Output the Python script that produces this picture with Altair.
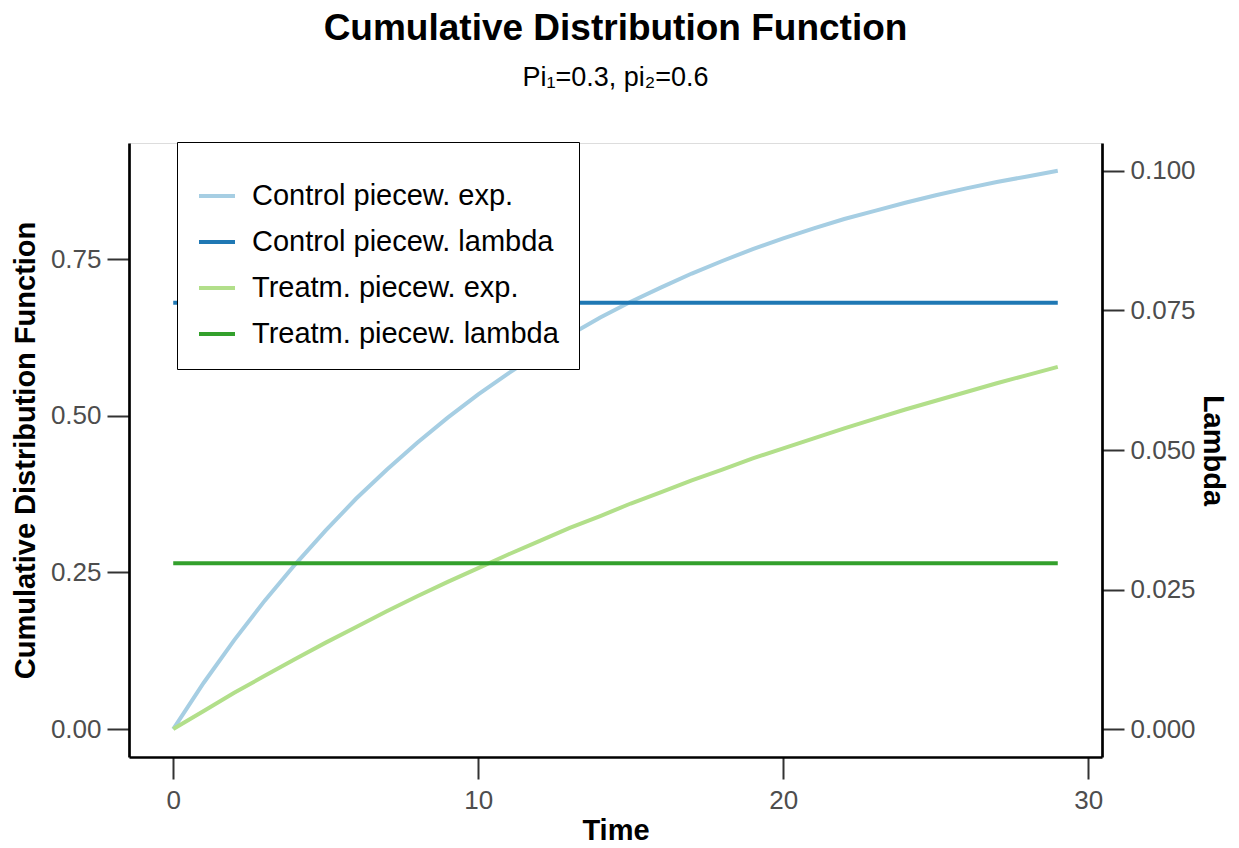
import altair as alt
import pandas as pd

# Time grid (months) and cumulative distribution values of both arms
time = list(range(30))
control_cdf = [0.000, 0.074, 0.142, 0.205, 0.263, 0.317, 0.368, 0.414, 0.457, 0.497,
               0.534, 0.568, 0.600, 0.629, 0.657, 0.682, 0.705, 0.727, 0.747, 0.766,
               0.783, 0.799, 0.814, 0.827, 0.840, 0.852, 0.863, 0.873, 0.882, 0.891]
treat_cdf = [0.000, 0.029, 0.058, 0.085, 0.112, 0.138, 0.163, 0.188, 0.212, 0.235,
             0.257, 0.279, 0.300, 0.321, 0.340, 0.360, 0.378, 0.397, 0.414, 0.432,
             0.448, 0.464, 0.480, 0.495, 0.510, 0.524, 0.538, 0.552, 0.565, 0.578]

# Piecewise constant hazard rates (right axis)
lambda_time = [0, 29]
control_lambda = [0.0764, 0.0764]
treat_lambda = [0.0297, 0.0297]

series_names = ["Control piecew. exp.", "Control piecew. lambda",
                "Treatm. piecew. exp.", "Treatm. piecew. lambda"]
series_colors = ["#A6CEE3", "#1F78B4", "#B2DF8A", "#33A02C"]

cdf_df = pd.DataFrame({
    "time": time + time,
    "value": control_cdf + treat_cdf,
    "series": [series_names[0]] * len(time) + [series_names[2]] * len(time),
})
lambda_df = pd.DataFrame({
    "time": lambda_time + lambda_time,
    "value": control_lambda + treat_lambda,
    "series": [series_names[1]] * 2 + [series_names[3]] * 2,
})

FONT = "Liberation Sans"

color = alt.Color(
    "series:N",
    sort=series_names,
    scale=alt.Scale(domain=series_names, range=series_colors),
    legend=alt.Legend(
        title=" ", titleFontSize=10, titlePadding=4,
        orient="none", legendX=48, legendY=-1, direction="vertical",
        strokeColor="black", fillColor="white", padding=20,
        labelFont=FONT, labelFontSize=29, labelColor="black",
        labelLimit=600, labelOffset=15,
        symbolType="stroke", symbolSize=1296, symbolStrokeWidth=4,
        rowPadding=11,
    ),
)

axis_style = dict(
    grid=False, labelFont=FONT, labelFontSize=26, labelColor="#4D4D4D",
    tickSize=22, tickWidth=2, tickColor="#333333",
    domainColor="black", domainWidth=2.7,
    titleFont=FONT, titleFontSize=29, titleFontWeight="bold", titleColor="black",
)

x = alt.X(
    "time:Q",
    scale=alt.Scale(domain=[-1.45, 30.45], nice=False, zero=False),
    axis=alt.Axis(values=[0, 10, 20, 30], format="d", title="Time",
                  labelPadding=8, titleY=82, titleBaseline="alphabetic",
                  **axis_style),
)

cdf_lines = alt.Chart(cdf_df).mark_line(strokeWidth=4).encode(
    x=x,
    y=alt.Y(
        "value:Q",
        scale=alt.Scale(domain=[-0.04454, 0.93534], nice=False, zero=False),
        axis=alt.Axis(values=[0, 0.25, 0.5, 0.75], format=".2f",
                      title="Cumulative Distribution Function", orient="left",
                      labelPadding=6, titleAngle=-90, titleX=-95, titleY=307,
                      titleBaseline="alphabetic", titleAlign="center",
                      **axis_style),
    ),
    color=color,
    detail="series:N",
)

lambda_lines = alt.Chart(lambda_df).mark_line(strokeWidth=4).encode(
    x=x,
    y=alt.Y(
        "value:Q",
        scale=alt.Scale(domain=[-0.005, 0.105], nice=False, zero=False),
        axis=alt.Axis(values=[0, 0.025, 0.05, 0.075, 0.1], format=".3f",
                      title="Lambda", orient="right",
                      labelPadding=6, titleAngle=90, titleX=101, titleY=307,
                      titleBaseline="alphabetic", titleAlign="center",
                      **axis_style),
    ),
    color=color,
    detail="series:N",
)

chart = (
    alt.layer(cdf_lines, lambda_lines)
    .resolve_scale(y="independent")
    .properties(
        width=973,
        height=614,
        autosize=alt.AutoSizeParams(type="none"),
        padding={"left": 129, "top": 143, "right": 137, "bottom": 91},
        title=alt.TitleParams(
            text="Cumulative Distribution Function",
            subtitle="Pi₁=0.3, pi₂=0.6",
            font=FONT, fontSize=37, fontWeight="bold", color="black",
            subtitleFont=FONT, subtitleFontSize=27, subtitleColor="black",
            anchor="middle", offset=50, subtitlePadding=17,
        ),
    )
    .configure_view(stroke=None)
    .configure_legend(strokeWidth=2)
    .configure(background="white")
)

chart.save("out.html", embed_options={"renderer": "svg", "actions": False})
